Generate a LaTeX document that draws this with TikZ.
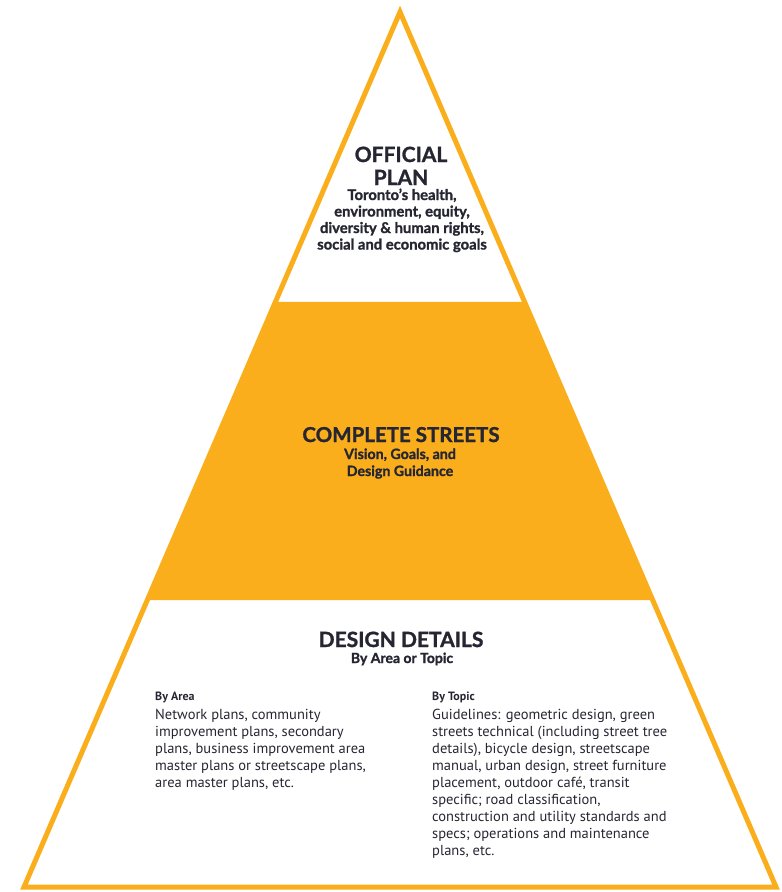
\documentclass[tikz,border=0pt]{standalone}
\usepackage{fontspec}
\usetikzlibrary{calc}
\setmainfont{PT Sans}
\newfontfamily\headfont[BoldFeatures={FakeBold=1.3}]{Lato}
\definecolor{pyrorange}{HTML}{FAAE1C}
\definecolor{pyrtext}{HTML}{262633}
\tikzset{
  title/.style={text=pyrtext, inner sep=0pt, anchor=base, font=\headfont\bfseries\fontsize{21}{24}\selectfont},
  subtitle/.style={text=pyrtext, inner sep=0pt, anchor=base, font=\headfont\bfseries\fontsize{14.8}{16.5}\selectfont},
  colhead/.style={text=pyrtext, inner sep=0pt, anchor=base west, font=\bfseries\fontsize{12}{13}\selectfont},
  body/.style={text=pyrtext, inner sep=0pt, anchor=base west, font=\fontsize{14.5}{17}\selectfont},
  edge/.style={draw=pyrorange, line width=5pt, line join=miter},
}
\begin{document}
\begin{tikzpicture}[x=1pt,y=-1pt]
\useasboundingbox (0,0) rectangle (782,892);
% vertices
\coordinate (apex) at (400,12);
\coordinate (bl) at (24,887);
\coordinate (br) at (776,887);
% band
\fill[pyrorange] ($(apex)!{290/875}!(bl)$) -- ($(apex)!{290/875}!(br)$) -- ($(apex)!{588/875}!(br)$) -- ($(apex)!{588/875}!(bl)$) -- cycle;
\draw[edge] (apex) -- (br) -- (bl) -- cycle;
% top
\node[title] (op1) at (401,162) {OFFICIAL};
\node[title] (op2) at (401,185) {PLAN};
\node[subtitle] (opsub) at (402,200) {\begin{tabular}[t]{@{}c@{}}Toronto’s health,\\ environment, equity,\\ diversity \& human rights,\\ social and economic goals\end{tabular}};
% middle
\node[title, font=\headfont\bfseries\fontsize{20.5}{22}\selectfont] (cs) at (401,442) {COMPLETE STREETS};
\node[subtitle, font=\headfont\bfseries\fontsize{14.2}{17}\selectfont] (cssub) at (400,459) {\begin{tabular}[t]{@{}c@{}}Vision, Goals, and\\ Design Guidance\end{tabular}};
% bottom
\node[title, font=\headfont\bfseries\fontsize{21}{22}\selectfont] (dd) at (401,647) {DESIGN DETAILS};
\node[subtitle, font=\headfont\bfseries\fontsize{14}{16}\selectfont] (ddsub) at (402,663) {By Area or Topic};
\node[colhead] (areah) at (155,700) {By Area};
\node[body] (area) at (155,719) {\begin{tabular}[t]{@{}l@{}}Network plans, community\\ improvement plans, secondary\\ plans, business improvement area\\ master plans or streetscape plans,\\ area master plans, etc.\end{tabular}};
\node[colhead] (topich) at (432,700) {By Topic};
\node[body] (topic) at (432,719) {\begin{tabular}[t]{@{}l@{}}Guidelines: geometric design, green\\ streets technical (including street tree\\ details), bicycle design, streetscape\\ manual, urban design, street furniture\\ placement, outdoor café, transit\\ specific; road classification,\\ construction and utility standards and\\ specs; operations and maintenance\\ plans, etc.\end{tabular}};
\end{tikzpicture}
\end{document}
